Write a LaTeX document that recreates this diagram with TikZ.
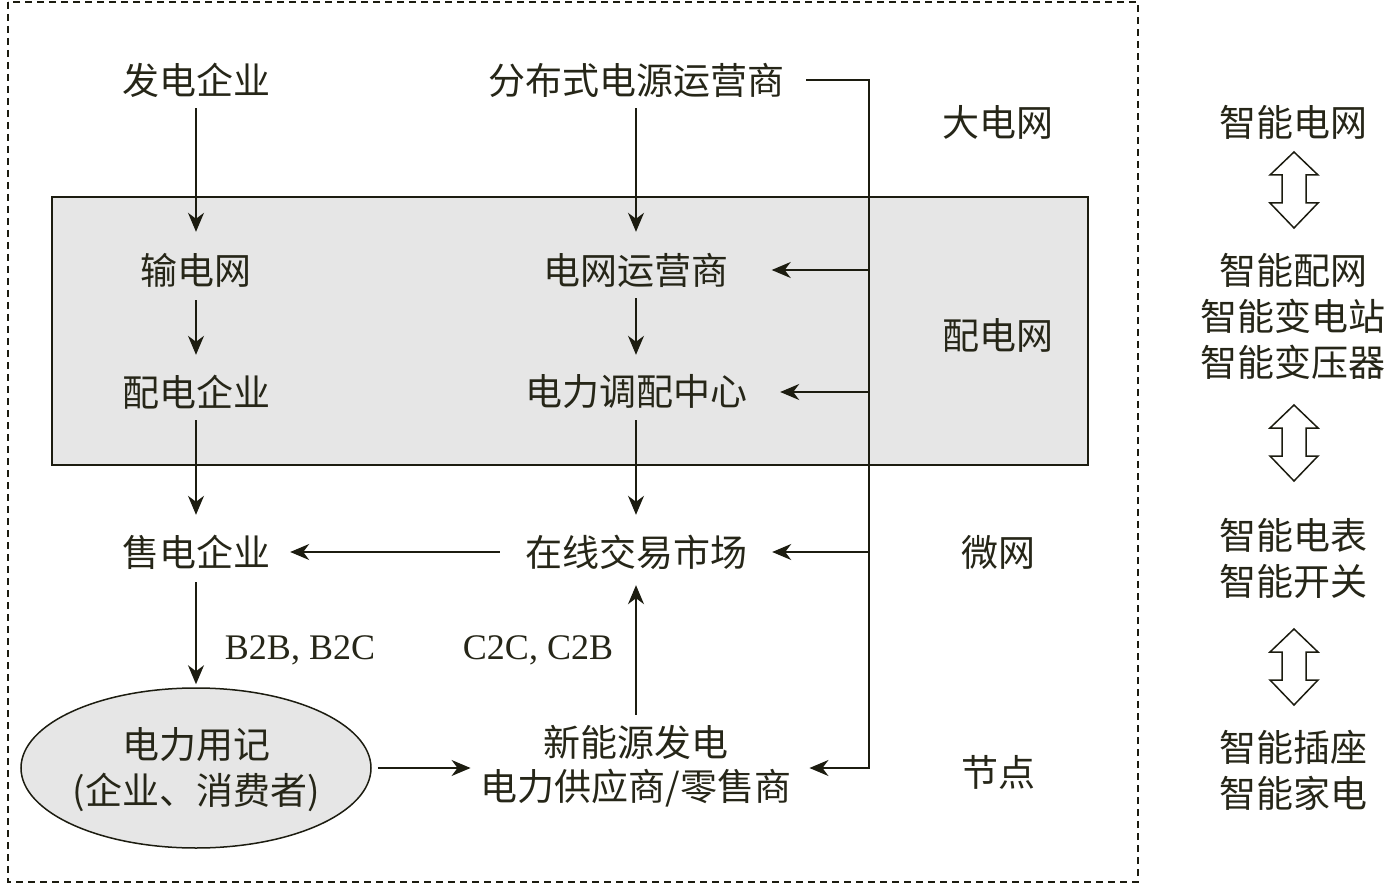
\documentclass[tikz,border=0pt]{standalone}
\usepackage{fontspec}
\setmainfont{Liberation Serif}
\newfontfamily\cjk{Noto Sans CJK SC}
\usetikzlibrary{arrows.meta,shapes.geometric}
\definecolor{txt}{HTML}{262618}
\definecolor{ln}{HTML}{1C1C10}
\definecolor{boxfill}{HTML}{E6E6E6}
\begin{document}
\begin{tikzpicture}[x=1pt,y=-1pt,
  lbl/.style={font=\cjk\fontsize{37}{46}\selectfont, text=txt, inner sep=0pt, minimum height=56pt, align=center},
  lbl2/.style={font=\cjk\fontsize{37}{46}\selectfont, text=txt, inner sep=0pt, align=center},
  lat/.style={font=\fontsize{36}{40}\selectfont, text=txt, inner sep=0pt},
  arr/.style={-{Stealth[length=19pt,width=16pt,inset=6pt]}, line width=1.6pt, draw=ln},
  dbl/.pic={\draw[line width=1.5pt, draw=ln, fill=white, line join=miter]
     (0,0) -- (24,23) -- (12,23) -- (12,51) -- (24,51) -- (0,76) -- (-24,51) -- (-12,51) -- (-12,23) -- (-24,23) -- cycle;}
]
\useasboundingbox (0,0) rectangle (1387,885);
% frames
\draw[ln, line width=2pt, dash pattern=on 7pt off 5pt] (8,2) rectangle (1138,882);
\draw[ln, line width=1.5pt, fill=boxfill] (52,197) rectangle (1088,465);

% left column
\node[lbl] (fd) at (196,80) {发电企业};
\node[lbl] (sd) at (196,270) {输电网};
\node[lbl] (pd) at (196,392) {配电企业};
\node[lbl] (shd) at (196,552) {售电企业};
\node[ellipse, draw=ln, line width=1.5pt, fill=boxfill, minimum width=350pt, minimum height=160pt, inner sep=0pt] (yh) at (196,768) {};
\node[lbl2] (yh1) at (196,745) {电力用记};
\node[lbl2] (yh2) at (196,792) {(企业、消费者)};

% middle column
\node[lbl] (fb) at (636,80) {分布式电源运营商};
\node[lbl] (wy) at (636,270) {电网运营商};
\node[lbl] (dl) at (636,392) {电力调配中心};
\node[lbl] (zx) at (636,552) {在线交易市场};
\node[lbl2] (ns1) at (636,742) {新能源发电};
\node[lbl2] (ns2) at (636,788) {电力供应商/零售商};

% level labels
\node[lbl] (l1) at (998,122) {大电网};
\node[lbl] (l2) at (998,335) {配电网};
\node[lbl] (l3) at (998,552) {微网};
\node[lbl] (l4) at (998,772) {节点};

% edge labels
\node[lat] (b2b) at (300,650) {B2B, B2C};
\node[lat] (c2c) at (538,650) {C2C, C2B};

% right column
\node[lbl2] (r1) at (1293,122) {智能电网};
\node[lbl2] (r2) at (1293,316) {智能配网\\智能变电站\\智能变压器};
\node[lbl2] (r3) at (1293,558) {智能电表\\智能开关};
\node[lbl2] (r4) at (1293,770) {智能插座\\智能家电};
\pic at (1294,152) {dbl};
\pic at (1294,405) {dbl};
\pic at (1294,629) {dbl};

% vertical arrows
\draw[arr, shorten >=10pt] (fd.south) -- (sd.north);
\draw[arr, shorten <=2pt, shorten >=9pt] (sd.south) -- (pd.north);
\draw[arr, shorten >=9pt] (pd.south) -- (shd.north);
\draw[arr, shorten <=2pt, shorten >=3pt] (shd.south) -- (yh.north);
\draw[arr, shorten >=10pt] (fb.south) -- (wy.north);
\draw[arr, shorten >=9pt] (wy.south) -- (dl.north);
\draw[arr, shorten >=9pt] (dl.south) -- (zx.north);
\draw[arr, shorten <=10pt, shorten >=5pt] (ns1.north) -- (zx.south);

% horizontal arrows
\draw[arr, shorten <=25pt, shorten >=20pt] (zx.west) -- (shd.east);
\draw[arr, shorten <=6pt, shorten >=10pt] (yh.east) -- (ns2.west |- yh.east);

% right bus
\coordinate (b1) at (869,80);
\coordinate (b5) at (869,768);
\draw[arr, shorten >=18pt] ([xshift=22pt]fb.east) -- (b1) -- (b5) -- (ns2.east |- b5);
\draw[arr, shorten >=43pt] (b1 |- wy) -- (wy.east);
\draw[arr, shorten >=33pt] (b1 |- dl) -- (dl.east);
\draw[arr, shorten >=25pt] (b1 |- zx) -- (zx.east);
\end{tikzpicture}
\end{document}
